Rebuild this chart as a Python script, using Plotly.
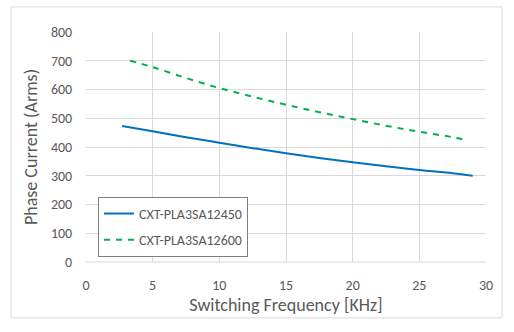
import plotly.graph_objects as go

freq_a = [2.7, 5, 7.5, 10, 12.5, 15, 17.5, 20, 22.5, 25, 27.5, 29]
cur_a = [473, 455, 434, 415, 396, 378, 362, 347, 333, 320, 309, 300]
freq_b = [3.3, 5, 7.5, 10, 12.5, 15, 17.5, 20, 22.5, 25, 27.5, 28.6]
cur_b = [700, 678, 640, 605, 575, 547, 521, 497, 474, 453, 434, 423]
name_a = "CXT-PLA3SA12450"
name_b = "CXT-PLA3SA12600"
x_ticks = [0, 5, 10, 15, 20, 25, 30]
y_ticks = [0, 100, 200, 300, 400, 500, 600, 700, 800]

font_family = "Carlito, Calibri, 'Open Sans', sans-serif"

fig = go.Figure()
fig.add_trace(go.Scatter(x=freq_a, y=cur_a, mode="lines", name=name_a, legendgroup="a",
                         line=dict(color="#0070c0", width=2, shape="spline")))
fig.add_trace(go.Scatter(x=freq_b, y=cur_b, mode="lines", name=name_b, legendgroup="b",
                         line=dict(color="#00b050", width=2, dash="6px,6px", shape="spline")))

fig.update_layout(
    width=514, height=332,
    margin=dict(l=86, r=28, t=32, b=70),
    paper_bgcolor="white", plot_bgcolor="white",
    font=dict(family=font_family, color="#595959", size=14),
    showlegend=True,
    legend=dict(x=0.03, y=0.283, xanchor="left", yanchor="top",
                bgcolor="white", bordercolor="#7f7f7f", borderwidth=1,
                font=dict(size=14, color="#595959"),
                tracegroupgap=5, itemwidth=30),
    xaxis=dict(range=[0, 30], tickvals=x_ticks, showgrid=True, gridcolor="#d9d9d9",
               zeroline=False, showline=False, ticks="outside", ticklen=10,
               tickcolor="rgba(0,0,0,0)",
               title=dict(text="Switching Frequency [KHz]", font=dict(size=18), standoff=4),
               tickfont=dict(size=14)),
    yaxis=dict(range=[0, 800], tickvals=y_ticks, showgrid=True, gridcolor="#d9d9d9",
               zeroline=False, showline=False, ticks="outside", ticklen=10,
               tickcolor="rgba(0,0,0,0)",
               title=dict(text="Phase Current (Arms)", font=dict(size=18), standoff=8),
               tickfont=dict(size=14)),
    shapes=[
        dict(type="rect", xref="paper", yref="paper", x0=-0.1875, x1=1.04, y0=-0.243, y1=1.109,
             line=dict(color="#d9d9d9", width=1), fillcolor="rgba(0,0,0,0)", layer="below"),
        dict(type="line", xref="paper", yref="paper", x0=0, x1=1, y0=0, y1=0,
             line=dict(color="#d9d9d9", width=1)),
    ],
)

fig.write_html("out.html")
